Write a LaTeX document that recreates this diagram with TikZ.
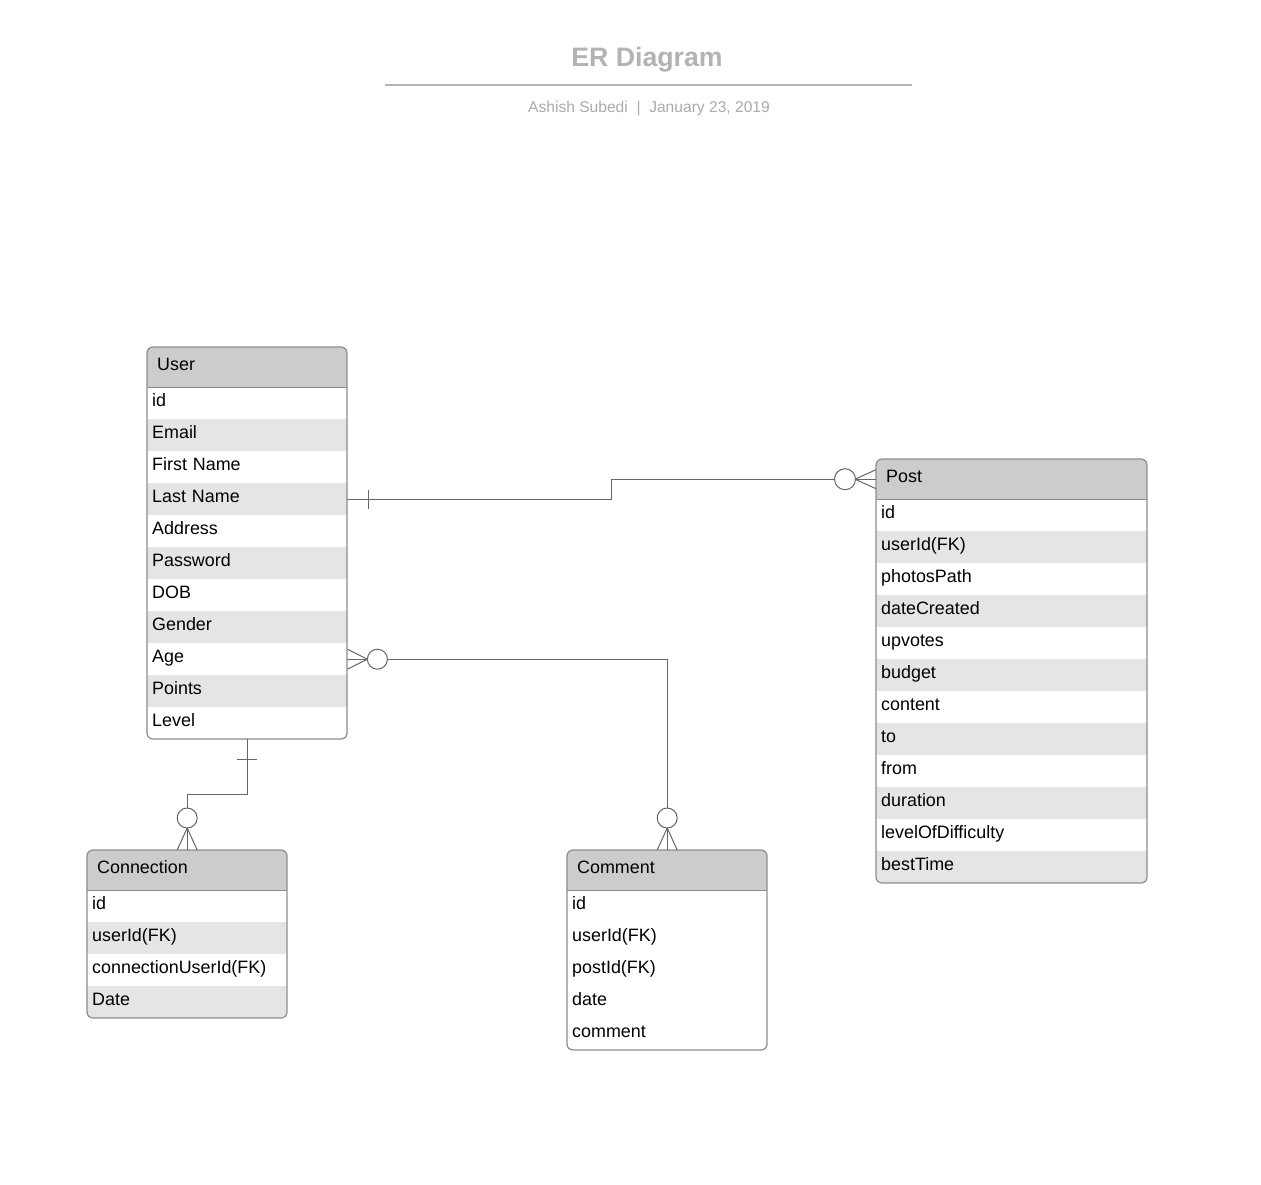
\documentclass[tikz,border=0pt]{standalone}
\usepackage{fontspec}
\setmainfont{Liberation Sans}
\usetikzlibrary{calc}

\definecolor{hdrfill}{HTML}{CCCCCC}
\definecolor{rowshade}{HTML}{E5E5E5}
\definecolor{edgegray}{HTML}{8C8C8C}
\definecolor{linkgray}{HTML}{666666}
\definecolor{titlegray}{HTML}{B3B3B3}
\definecolor{subgray}{HTML}{ABABAB}

\tikzset{
  hdrbox/.style={fill=hdrfill, minimum height=40pt, inner ysep=0pt, inner xsep=10pt,
    align=left, text height=11pt, text depth=5pt, anchor=north west,
    font=\fontsize{17.9}{21}\selectfont},
  rowbox/.style={minimum height=32pt, inner ysep=0pt, inner xsep=5pt,
    align=left, text height=11.5pt, text depth=4.5pt, anchor=north west,
    font=\fontsize{17.9}{21}\selectfont},
  entedge/.style={draw=edgegray, line width=1.2pt},
  link/.style={draw=linkgray, line width=1pt},
  ring/.style={link, fill=white},
}

% \erentity{name}{x}{y}{width}{rows}{title}{row texts}{even-row fill}
\newcommand\erentity[8]{%
  \pgfmathsetmacro\entH{40+32*#5}%
  \pgfmathsetmacro\hdrW{#4-20}%
  \pgfmathsetmacro\rowW{#4-10}%
  \begin{scope}
    \clip[rounded corners=6pt] (#2,#3) rectangle ++(#4,\entH);
    \node[hdrbox, text width=\hdrW pt] (#1-h) at (#2,#3) {#6};
    \foreach \rt [count=\i] in {#7} {%
      \ifodd\i \def\rowfill{white}\else\def\rowfill{#8}\fi
      \node[rowbox, fill=\rowfill, text width=\rowW pt] (#1-\i) at (#2,#3+8+32*\i) {\rt};
    }
  \end{scope}
  \draw[entedge] (#1-h.south west) -- (#1-h.south east);
  \draw[entedge, rounded corners=6pt] (#2,#3) rectangle ++(#4,\entH);
}

\begin{document}
\begin{tikzpicture}[x=1pt, y=-1pt]
\fill[white] (0,0) rectangle (1261,1184);
\useasboundingbox (0,0) rectangle (1261,1184);

% title block
\node[font=\bfseries\fontsize{26.7}{30}\selectfont, text=titlegray, anchor=base] (title) at (647,66) {ER Diagram};
\coordinate (ruleL) at (385,85);
\coordinate (ruleR) at (912,85);
\draw[draw=titlegray, line width=2pt] (ruleL) -- (ruleR);
\node[font=\fontsize{15.6}{18}\selectfont, text=subgray, anchor=base] (subtitle) at (649,112) {Ashish Subedi~~|~~January 23, 2019};

% entities
\erentity{user}{147}{347}{200}{11}{User}{id,Email,First Name,Last Name,Address,Password,DOB,Gender,Age,Points,Level}{rowshade}
\erentity{post}{876}{459}{271}{12}{Post}{id,userId(FK),photosPath,dateCreated,upvotes,budget,content,to,from,duration,levelOfDifficulty,bestTime}{rowshade}
\erentity{connection}{87}{850}{200}{4}{Connection}{id,userId(FK),connectionUserId(FK),Date}{rowshade}
\erentity{comment}{567}{850}{200}{5}{Comment}{id,userId(FK),postId(FK),date,comment}{white}

% User (one) -- Post (zero or many)
\draw[link] (user-4.east) -| ($(user-4.east)!.5!(post-h.west)$) |- (post-h.west);
\draw[link] ([shift={(21pt,9.5pt)}]user-4.east) -- ([shift={(21pt,-9.5pt)}]user-4.east);
\draw[link] ([yshift=9.5pt]post-h.west) -- ([xshift=-21pt]post-h.west) -- ([yshift=-9.5pt]post-h.west);
\draw[ring] ([xshift=-31pt]post-h.west) circle[radius=10.5pt];

% User (zero or many) -- Comment (zero or many)
\draw[link] (user-9.east) -| (comment-h.north);
\draw[link] ([yshift=10pt]user-9.east) -- ([xshift=20pt]user-9.east) -- ([yshift=-10pt]user-9.east);
\draw[ring] ([xshift=30pt]user-9.east) circle[radius=10pt];
\draw[link] ([xshift=-10pt]comment-h.north) -- ([yshift=22pt]comment-h.north) -- ([xshift=10pt]comment-h.north);
\draw[ring] ([yshift=32pt]comment-h.north) circle[radius=10pt];

% User (one) -- Connection (zero or many)
\draw[link] (user-11.south) |- ($(user-11.south)!.5!(connection-h.north)$) -| (connection-h.north);
\draw[link] ([shift={(-10pt,-20pt)}]user-11.south) -- ([shift={(10pt,-20pt)}]user-11.south);
\draw[link] ([xshift=-10pt]connection-h.north) -- ([yshift=22pt]connection-h.north) -- ([xshift=10pt]connection-h.north);
\draw[ring] ([yshift=32pt]connection-h.north) circle[radius=10pt];
\end{tikzpicture}
\end{document}
